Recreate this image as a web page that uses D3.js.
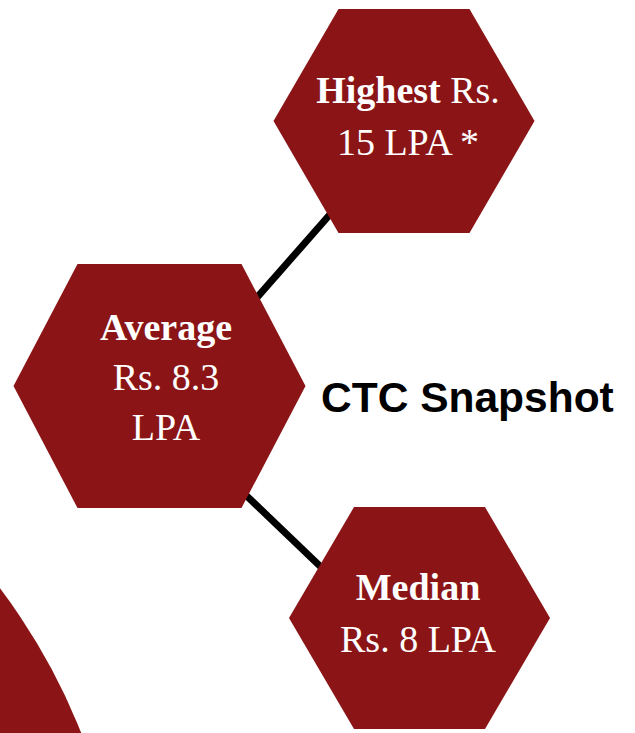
<!DOCTYPE html>
<html>
<head>
<meta charset="utf-8">
<script src="https://cdn.jsdelivr.net/npm/d3@7"></script>
<style>
  html, body { margin: 0; padding: 0; background: #ffffff; }
  svg { display: block; }
</style>
</head>
<body>
<svg id="chart" width="635" height="733"></svg>
<script>
// ---- data ----
const title = "CTC Snapshot";
const categories = ["Highest", "Average", "Median"];
const values = [15, 8.3, 8];
const currency = "Rs.";
const unit = "LPA";
const footnotes = [" *", "", ""];
const links = [["Average", "Highest"], ["Average", "Median"]];

// ---- layout (positions / sizes / styles) ----
const W = 635, H = 733;
const fill = "#8b1516";
const layout = {
  Highest: { cx: 404, cy: 121, hw: 130.5, hh: 112, inset: 65, tx: 408, baselines: [103, 155], split: [2] },
  Average: { cx: 159.5, cy: 386, hw: 146, hh: 122, inset: 64, tx: 166, baselines: [340, 390, 440], split: [1, 3] },
  Median:  { cx: 419.5, cy: 618, hw: 130.5, hh: 111, inset: 65, tx: 418, baselines: [600, 652], split: [1] }
};
// edge anchors relative to node centres (hidden under the hexagons)
const edgeAnchors = {
  "Average-Highest": [[90, -80], [-64, 82]],
  "Average-Median":  [[80, 103], [-85, -38]]
};
const bigCircle = { cx: -489, cy: 958, r: 613 };

const svg = d3.select("#chart");

// big decorative circle (bottom-left)
svg.append("circle")
  .attr("cx", bigCircle.cx).attr("cy", bigCircle.cy).attr("r", bigCircle.r)
  .attr("fill", fill);

// edges
const line = d3.line();
links.forEach(([s, t]) => {
  const a = edgeAnchors[s + "-" + t];
  const ls = layout[s], lt = layout[t];
  svg.append("path")
    .attr("d", line([[ls.cx + a[0][0], ls.cy + a[0][1]], [lt.cx + a[1][0], lt.cy + a[1][1]]]))
    .attr("stroke", "#000").attr("stroke-width", 7).attr("fill", "none");
});

// hexagons
categories.forEach((cat, i) => {
  const L = layout[cat];
  const pts = [
    [L.cx - L.hw + L.inset, L.cy - L.hh],
    [L.cx + L.hw - L.inset, L.cy - L.hh],
    [L.cx + L.hw, L.cy],
    [L.cx + L.hw - L.inset, L.cy + L.hh],
    [L.cx - L.hw + L.inset, L.cy + L.hh],
    [L.cx - L.hw, L.cy]
  ];
  svg.append("path")
    .attr("d", d3.line()(pts) + "Z")
    .attr("fill", fill);

  // tokens: bold category, then words of the value label
  const words = [{ t: cat, b: true }, { t: currency }, { t: String(values[i]) }, { t: unit + footnotes[i] }];
  const cuts = [0, ...L.split, words.length];
  for (let k = 0; k < cuts.length - 1; k++) {
    const seg = words.slice(cuts[k], cuts[k + 1]);
    const text = svg.append("text")
      .attr("x", L.tx).attr("y", L.baselines[k])
      .attr("text-anchor", "middle")
      .attr("fill", "#ffffff")
      .attr("font-family", "'Liberation Serif', 'DejaVu Serif', serif")
      .attr("font-size", 38);
    seg.forEach((w, j) => {
      text.append("tspan")
        .attr("font-weight", w.b ? "bold" : "normal")
        .text((j > 0 ? " " : "") + w.t);
    });
  }
});

// title
svg.append("text")
  .attr("x", 321).attr("y", 412)
  .attr("fill", "#000")
  .attr("font-family", "'Liberation Sans', Arial, sans-serif")
  .attr("font-weight", "bold")
  .attr("font-size", 42.5)
  .text(title);
</script>
</body>
</html>
